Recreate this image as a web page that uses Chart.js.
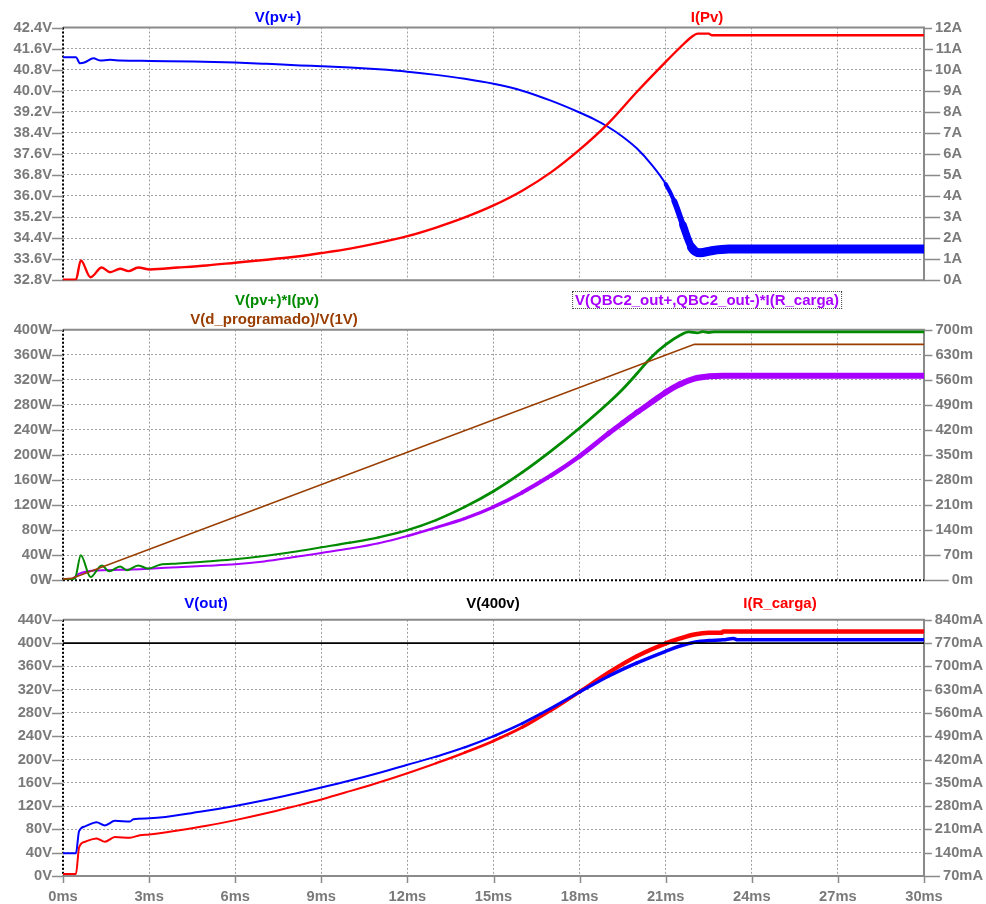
<!DOCTYPE html>
<html>
<head>
<meta charset="utf-8">
<script src="https://cdn.jsdelivr.net/npm/chart.js@4/dist/chart.umd.min.js"></script>
<style>
  html, body { margin: 0; padding: 0; background: #fff; }
  #wrap { position: relative; width: 986px; height: 904px; overflow: hidden; background: #fff; }
  canvas { position: absolute; left: 0; }
  .trace { position: absolute; font: bold 15px "Liberation Sans", Arial, sans-serif; white-space: nowrap;
           line-height: 16px; transform: translate(-50%, -50%); z-index: 5; }
  .boxed { border: 1px dotted #444; padding: 0 2px; }
</style>
</head>
<body>
<div id="wrap">
  <canvas id="c1" width="986" height="300" style="top:0px"></canvas>
  <canvas id="c2" width="986" height="300" style="top:300px"></canvas>
  <canvas id="c3" width="986" height="304" style="top:600px"></canvas>

  <div class="trace" style="left:278px;top:17px;color:#0000ff">V(pv+)</div>
  <div class="trace" style="left:707px;top:17px;color:#ff0000">I(Pv)</div>
  <div class="trace" style="left:277px;top:300px;color:#008a00">V(pv+)*I(pv)</div>
  <div class="trace" style="left:274px;top:319px;color:#993d00">V(d_programado)/V(1V)</div>
  <div class="trace boxed" style="left:707px;top:300px;color:#a800ff">V(QBC2_out+,QBC2_out-)*I(R_carga)</div>
  <div class="trace" style="left:206px;top:603px;color:#0000ff">V(out)</div>
  <div class="trace" style="left:493px;top:603px;color:#000000">V(400v)</div>
  <div class="trace" style="left:780px;top:603px;color:#ff0000">I(R_carga)</div>
</div>

<script>
// ---- axis ticks ----
const timeTicks  = [0, 3, 6, 9, 12, 15, 18, 21, 24, 27, 30];                 // ms
const vpvTicks   = [32.8, 33.6, 34.4, 35.2, 36.0, 36.8, 37.6, 38.4, 39.2, 40.0, 40.8, 41.6, 42.4]; // V
const ipvTicks   = [0, 1, 2, 3, 4, 5, 6, 7, 8, 9, 10, 11, 12];               // A
const powerTicks = [0, 40, 80, 120, 160, 200, 240, 280, 320, 360, 400];      // W
const dutyTicks  = [0, 70, 140, 210, 280, 350, 420, 490, 560, 630, 700];     // m
const voutTicks  = [0, 40, 80, 120, 160, 200, 240, 280, 320, 360, 400, 440]; // V
const iloadTicks = [70, 140, 210, 280, 350, 420, 490, 560, 630, 700, 770, 840]; // mA

// ---- V(pv+) [V] ----
const tVpv = [0, 0.45, 0.59, 0.77, 1.06, 1.29, 1.64, 1.99, 3.03, 4.54, 5.99, 7.1, 8.26, 9, 10, 11, 12, 13,
              14, 15, 16, 17, 18, 18.5, 19, 19.5, 20, 20.5, 21, 21.3, 21.6, 21.9, 22.2, 22.6, 23.2, 24, 30];
const vVpv = [41.27, 41.27, 41.04, 41.08, 41.23, 41.15, 41.17, 41.15, 41.13, 41.11, 41.07, 41.02, 40.96,
              40.93, 40.88, 40.81, 40.72, 40.6, 40.45, 40.26, 40.0, 39.62, 39.17, 38.92, 38.62, 38.25,
              37.8, 37.2, 36.45, 35.8, 34.9, 34.05, 33.84, 33.92, 33.98, 33.98, 33.98];

// ---- I(Pv) [A] ----
const tIpv = [0, 0.45, 0.62, 0.96, 1.35, 1.64, 1.99, 2.28, 2.62, 3.03, 4, 5, 6, 7, 8, 9, 10, 11, 12, 13,
              14, 15, 16, 17, 18, 19, 20, 21, 21.5, 21.9, 22.12, 22.5, 22.6, 30];
const aIpv = [0.02, 0.02, 0.94, 0.14, 0.60, 0.38, 0.54, 0.43, 0.60, 0.51, 0.60, 0.70, 0.83, 0.96, 1.10,
              1.29, 1.50, 1.77, 2.09, 2.50, 2.98, 3.55, 4.25, 5.12, 6.20, 7.45, 8.95, 10.37, 11.05, 11.55,
              11.71, 11.71, 11.63, 11.63];

// ---- V(pv+)*I(pv) [W] ----
const tPin = [0, 0.3, 0.42, 0.62, 0.96, 1.35, 1.61, 1.99, 2.22, 2.62, 2.97, 3.38, 4, 5, 6, 7, 8, 9, 10,
              11, 12, 13, 14, 15, 16, 17, 18, 19, 19.5, 20, 20.5, 21, 21.5, 21.8, 22.1, 22.3, 22.5, 22.7, 30];
const wPin = [1.5, 1.5, 3, 40, 5, 23.6, 14.3, 22, 15.9, 23.6, 18.5, 24.6, 26.5, 30, 33.5, 38.5, 45, 52.5,
              60, 68.5, 80, 96, 117, 142, 172, 206, 243, 283, 305, 330, 356, 376, 391, 396.4, 395,
              396.8, 395.5, 396.4, 396.4];

// ---- V(d_programado)/V(1V) [m] ----
const tDuty = [0, 0.3, 22.0, 30];
const mDuty = [3, 5, 659, 659];

// ---- V(QBC2_out+,QBC2_out-)*I(R_carga) [W] ----
const tPout = [0, 0.3, 0.55, 1.1, 2, 3, 4, 5, 6, 7, 8, 9, 10, 11, 12, 13, 14, 15, 16, 17, 18, 19, 19.5,
               20, 20.5, 21, 21.5, 22, 22.5, 23, 30];
const wPout = [1.5, 2, 10, 15.3, 16.5, 18.3, 20.8, 23, 25.5, 30, 36.5, 43.5, 50.5, 59, 70.5, 84, 98.5,
               117, 140, 167, 198, 234, 251, 268, 284, 300, 313, 322, 325.5, 326.6, 326.6];

// ---- V(out) [V] ----
const tVout = [0, 0.45, 0.56, 0.77, 1.17, 1.46, 1.81, 2.33, 2.45, 3.03, 4.77, 5.99, 7.68, 9, 10, 11, 12,
               13, 14, 15, 16, 17, 18, 19, 20, 21, 21.5, 22, 22.5, 23, 23.36, 23.5, 30];
const vVout = [39, 39, 76.9, 85.2, 92.5, 86.9, 94.7, 93.6, 97.5, 99, 110.3, 120.3, 137, 152, 164, 177, 191,
               205, 221, 240, 262, 288, 316, 343, 366, 386, 395, 401.5, 404.5, 405.6, 408, 405.6, 405.6];

// ---- V(400v) [V] ----
const tRef = [0, 30];
const vRef = [400, 400];

// ---- I(R_carga) [mA] ----
const tIload  = [0, 0.45, 0.56, 0.77, 1.17, 1.46, 1.81, 2.33, 2.68, 3, 4, 5, 6, 7, 8, 9, 10, 11, 12, 13,
                 14, 15, 16, 17, 18, 19, 20, 21, 21.5, 22, 22.5, 22.95, 23.0, 30];
const maIload = [75.8, 75.8, 155.7, 173, 183, 173, 187, 185, 192.8, 195, 207, 221, 238, 257, 278, 300, 325,
                 351, 379, 409, 441, 476, 517, 568, 624, 681, 731, 769, 784, 796, 801, 801, 805, 805];

// ---- styling ----
const FONT_FAMILY = '"Liberation Sans", Arial, sans-serif';
const TICK_FONT = { family: FONT_FAMILY, size: 14.7, weight: 'bold' };
const TICK_COLOR = '#7a7a7a';
const GRID_COLOR = '#a0a0a0';
const FRAME_COLOR = '#8a8a8a';

Chart.defaults.font.family = FONT_FAMILY;

function points(ts, vs) { return ts.map((t, i) => ({ x: t, y: vs[i] })); }

// smooth trace; widthAt(t) lets the stroke thicken where the waveform carries ripple
function trace(ts, vs, color, axis, width, widthAt) {
  const ds = {
    data: points(ts, vs), borderColor: color, borderWidth: width, yAxisID: axis,
    pointRadius: 0, fill: false, cubicInterpolationMode: 'monotone',
    borderJoinStyle: 'round', borderCapStyle: 'round'
  };
  if (widthAt) ds.segment = { borderWidth: ctx => widthAt((ctx.p0.parsed.x + ctx.p1.parsed.x) / 2) };
  return ds;
}

// straight piecewise-linear trace
function straight(ts, vs, color, axis, width) {
  return {
    data: points(ts, vs), borderColor: color, borderWidth: width, yAxisID: axis,
    pointRadius: 0, fill: false, tension: 0
  };
}

function ramp(t, t0, t1, w0, w1) {
  if (t <= t0) return w0;
  if (t >= t1) return w1;
  return w0 + (t - t0) / (t1 - t0) * (w1 - w0);
}

function xScale(showLabels, height) {
  return {
    type: 'linear', position: 'bottom', min: 0, max: 30,
    afterBuildTicks: s => { s.ticks = timeTicks.map(v => ({ value: v })); },
    afterFit: s => { s.height = height; },
    ticks: { display: showLabels, autoSkip: false, maxRotation: 0, color: TICK_COLOR, font: TICK_FONT,
             padding: 12, callback: v => v + 'ms' },
    grid: { color: GRID_COLOR, lineWidth: 1, drawTicks: false },
    border: { display: false, dash: [2, 2] }
  };
}

function yScale(pos, tickValues, fmt, width) {
  const left = pos === 'left';
  return {
    type: 'linear', position: pos,
    min: tickValues[0], max: tickValues[tickValues.length - 1],
    afterBuildTicks: s => { s.ticks = tickValues.map(v => ({ value: v })); },
    afterFit: s => { s.width = width; },
    ticks: { autoSkip: false, color: TICK_COLOR, font: TICK_FONT, padding: left ? 11 : 0,
             crossAlign: left ? 'near' : 'far', callback: v => fmt(v) },
    grid: { display: left, drawOnChartArea: left, color: GRID_COLOR, lineWidth: 1, drawTicks: false },
    border: { display: false, dash: [2, 2] }
  };
}

// frame, zero lines and tick marks
const framePlugin = {
  id: 'frame',
  beforeDatasetsDraw(chart, args, opts) {
    const { ctx, chartArea: a, scales } = chart;
    ctx.save();
    ctx.setLineDash([]);
    ctx.strokeStyle = FRAME_COLOR;
    ctx.lineWidth = 2;
    ctx.beginPath();
    ctx.moveTo(a.left, a.top); ctx.lineTo(a.right, a.top); ctx.lineTo(a.right, a.bottom);
    if (!opts.zeroBottom) ctx.lineTo(a.left, a.bottom);
    ctx.stroke();

    ctx.strokeStyle = '#000';
    ctx.setLineDash([2, 2]);
    ctx.beginPath();
    ctx.moveTo(a.left, a.top); ctx.lineTo(a.left, a.bottom);
    if (opts.zeroBottom) { ctx.moveTo(a.left, a.bottom); ctx.lineTo(a.right, a.bottom); }
    ctx.stroke();

    ctx.setLineDash([]);
    ctx.strokeStyle = FRAME_COLOR;
    ctx.lineWidth = 1.5;
    ctx.font = 'bold 14.7px ' + FONT_FAMILY;
    const yl = scales.yl, yr = scales.yr, x = scales.x;
    ctx.beginPath();
    yl.ticks.forEach(t => {
      const py = Math.round(yl.getPixelForValue(t.value)) + 0.5;
      ctx.moveTo(a.left - 11, py); ctx.lineTo(a.left, py);
    });
    yr.ticks.forEach(t => {
      const py = Math.round(yr.getPixelForValue(t.value)) + 0.5;
      const w = ctx.measureText(t.label).width;
      ctx.moveTo(a.right, py); ctx.lineTo(yr.right - w - 3, py);
    });
    if (opts.xTicks) {
      x.ticks.forEach(t => {
        const px = Math.round(x.getPixelForValue(t.value)) + 0.5;
        ctx.moveTo(px, a.bottom); ctx.lineTo(px, a.bottom + 7);
      });
    }
    ctx.stroke();
    ctx.restore();
  }
};

function makeChart(id, datasets, scales, padding, frameOpts) {
  return new Chart(document.getElementById(id), {
    type: 'line',
    data: { datasets },
    options: {
      responsive: false, animation: false, devicePixelRatio: 1,
      layout: { padding },
      scales,
      plugins: { legend: { display: false }, tooltip: { enabled: false }, frame: frameOpts }
    },
    plugins: [framePlugin]
  });
}

// Panel 1: PV voltage and current
makeChart('c1', [
  trace(tIpv, aIpv, '#ff0000', 'yr', 2.4),
  trace(tVpv, vVpv, '#0000ff', 'yl', 2, t => ramp(t, 20.8, 22.0, 2, 9))
], {
  x: xScale(false, 13),
  yl: yScale('left', vpvTicks, v => v.toFixed(1) + 'V', 63),
  yr: yScale('right', ipvTicks, v => v + 'A', 38)
}, { top: 27.5, left: 0, right: 24, bottom: 0 }, { zeroBottom: false, xTicks: false });

// Panel 2: input power, duty cycle and output power
makeChart('c2', [
  straight(tDuty, mDuty, '#993d00', 'yr', 1.6),
  trace(tPin, wPin, '#008a00', 'yl', 2, t => ramp(t, 8, 16, 2, 2.8)),
  trace(tPout, wPout, '#a800ff', 'yl', 2, t => ramp(t, 11, 21.5, 2, 6))
], {
  x: xScale(false, 10.7),
  yl: yScale('left', powerTicks, v => v + 'W', 63),
  yr: yScale('right', dutyTicks, v => v + 'm', 49)
}, { top: 29.7, left: 0, right: 13, bottom: 0 }, { zeroBottom: true, xTicks: false });

// Panel 3: output voltage, reference and load current
makeChart('c3', [
  straight(tRef, vRef, '#000000', 'yl', 1.8),
  trace(tVout, vVout, '#0000ff', 'yl', 2, t => ramp(t, 13, 20, 2, 3.5)),
  trace(tIload, maIload, '#ff0000', 'yr', 2, t => ramp(t, 12, 21, 2, 4.5))
], {
  x: xScale(true, 28),
  yl: yScale('left', voutTicks, v => v + 'V', 63),
  yr: yScale('right', iloadTicks, v => v + 'mA', 59)
}, { top: 12.7, left: 0, right: 3, bottom: 0 }, { zeroBottom: false, xTicks: true });
</script>
</body>
</html>
